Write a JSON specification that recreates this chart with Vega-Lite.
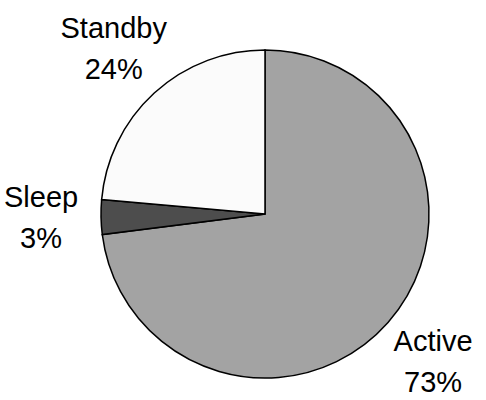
{
  "$schema": "https://vega.github.io/schema/vega-lite/v6.json",
  "width": 442,
  "height": 372,
  "autosize": {"type": "none"},
  "padding": {"left": 44, "top": 28, "right": 0, "bottom": 0},
  "background": "white",
  "config": {"view": {"stroke": null}},
  "data": {
    "values": [
      {"state": "Active", "value": 73, "idx": 1, "label": "Active\n73%"},
      {"state": "Sleep", "value": 3.4, "idx": 2, "label": "Sleep\n3%"},
      {"state": "Standby", "value": 23.6, "idx": 3, "label": "Standby\n24%"}
    ]
  },
  "encoding": {
    "theta": {"field": "value", "type": "quantitative", "stack": true},
    "order": {"field": "idx", "type": "quantitative"}
  },
  "layer": [
    {
      "mark": {"type": "arc", "outerRadius": 164, "stroke": "black", "strokeWidth": 1.5},
      "encoding": {
        "color": {
          "field": "state",
          "type": "nominal",
          "scale": {"domain": ["Active", "Sleep", "Standby"], "range": ["#a3a3a3", "#4d4d4d", "#fbfbfb"]},
          "legend": null
        }
      }
    },
    {
      "mark": {
        "type": "text",
        "radius": 224,
        "dy": -20,
        "font": "Liberation Sans",
        "fontSize": 29,
        "lineHeight": 41,
        "lineBreak": "\n",
        "align": "center",
        "baseline": "middle",
        "color": "black"
      },
      "encoding": {
        "text": {"field": "label", "type": "nominal"}
      }
    }
  ]
}
